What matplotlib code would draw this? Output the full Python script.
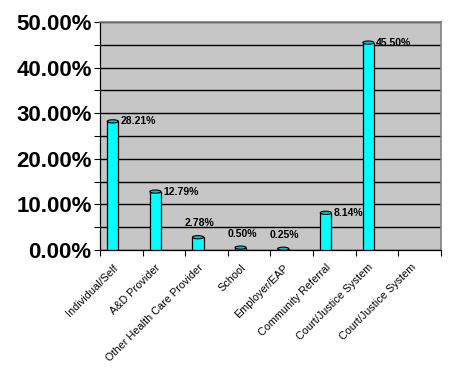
import matplotlib
matplotlib.use("Agg")
import matplotlib.pyplot as plt
from matplotlib.patches import Ellipse
from matplotlib.ticker import MultipleLocator, FuncFormatter
import numpy as np

plt.rcParams['font.family'] = ['Liberation Sans', 'DejaVu Sans']

categories = ["Individual/Self", "A&D Provider", "Other Health Care Provider",
              "School", "Employer/EAP", "Community Referral",
              "Court/Justice System", "Court/Justice System"]
values = [28.21, 12.79, 2.78, 0.50, 0.25, 8.14, 45.50, np.nan]
value_labels = ["28.21%", "12.79%", "2.78%", "0.50%", "0.25%", "8.14%", "45.50%", ""]

fig = plt.figure(figsize=(4.65, 3.68), dpi=100)
ax = fig.add_axes([0.215, 0.321, 0.733, 0.619])

x = np.arange(len(categories))
shift = -0.2
width = 0.26
ax.set_facecolor("#C6C6C6")
ax.set_xlim(-0.5, len(categories) - 0.5)
ax.set_ylim(0, 50)

# grid every 5%
ax.yaxis.set_major_locator(MultipleLocator(10))
ax.yaxis.set_minor_locator(MultipleLocator(5))
ax.grid(axis="y", which="both", color="black", linewidth=1.0)
ax.set_axisbelow(True)

ax.bar(x + shift, values, width=width, color="#00FFFF", edgecolor="black",
       linewidth=0.9, zorder=3)
# cylinder tops
for xi, v in zip(x, values):
    if np.isnan(v):
        continue
    ax.add_patch(Ellipse((xi + shift, v), width, 0.7, facecolor="#00C8C8",
                         edgecolor="black", linewidth=0.8, zorder=4))

for xi, v, lab in zip(x, values, value_labels):
    if np.isnan(v):
        continue
    if v > 5:
        ax.annotate(lab, (xi + shift + width / 2, v), xytext=(1.5, 0),
                    textcoords="offset points", ha="left", va="center",
                    fontsize=7.5, fontweight="bold", zorder=5)
    else:
        ax.annotate(lab, (xi + shift, v), xytext=(1, 10),
                    textcoords="offset points", ha="center", va="center",
                    fontsize=7.5, fontweight="bold", zorder=5)

ax.yaxis.set_major_formatter(FuncFormatter(lambda v, p: f"{v:.2f}%"))
ax.tick_params(axis="y", which="both", direction="out", length=4, width=0.8,
               labelsize=16, pad=2)
for t in ax.get_yticklabels():
    t.set_fontweight("bold")

ax.set_xticks(x + shift)
ax.set_xticks(np.arange(-0.5, len(categories)), minor=True)
ax.tick_params(axis="x", which="major", length=0, pad=9)
ax.tick_params(axis="x", which="minor", direction="out", length=4, width=0.8)
ax.set_xticklabels(categories, rotation=45, ha="right", va="top",
                   rotation_mode="anchor", fontsize=7.8)

for s in ["left", "bottom"]:
    ax.spines[s].set_color("black")
    ax.spines[s].set_linewidth(0.9)
for s in ["right", "top"]:
    ax.spines[s].set_color("#808080")
    ax.spines[s].set_linewidth(1.2)

fig.savefig("out.png", dpi=100)
